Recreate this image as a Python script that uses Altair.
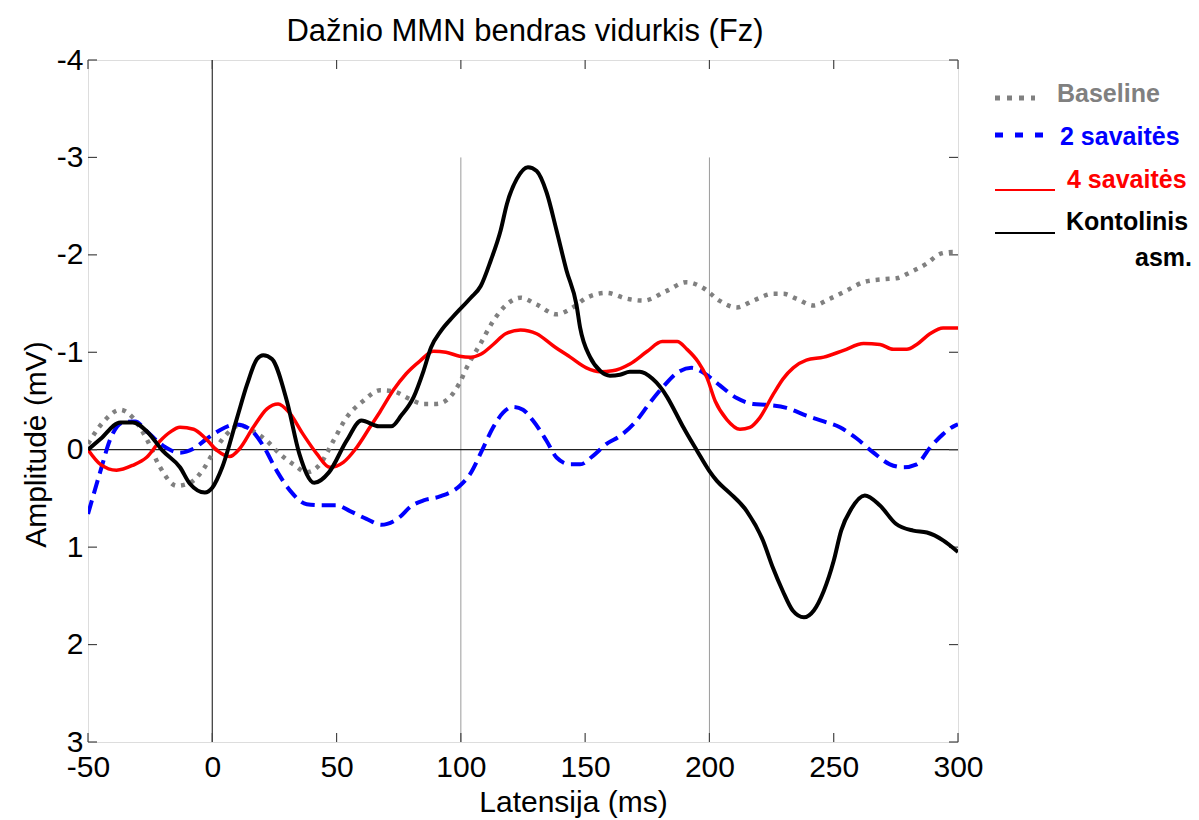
import altair as alt
import pandas as pd

# ---- data ----
black_ms = [-50, -45, -37, -32, -26, -20, -13, -9, -3, 0, 4, 10, 14, 18, 20.5, 24, 30, 35, 41, 47, 54, 60,
            67, 72, 76, 81, 85, 88, 92, 97, 104, 108, 112, 116, 118.5, 122.5, 127, 130.5, 134.5, 138.5,
            142.5, 146.5, 148, 152, 156, 160, 164, 168, 172, 177, 183, 186, 189.5, 195, 200, 203, 208,
            215, 221.5, 225.5, 229.5, 233.5, 238, 242, 246, 250, 253, 257, 262.5, 268.5, 275, 282,
            287.5, 294, 300]
black_mv = [0.0, -0.11, -0.28, -0.28, -0.18, 0.01, 0.18, 0.35, 0.44, 0.39, 0.18, -0.33, -0.67, -0.93, -0.97,
            -0.93, -0.50, 0.04, 0.34, 0.23, -0.09, -0.30, -0.24, -0.24, -0.35, -0.54, -0.81, -1.05, -1.22,
            -1.37, -1.56, -1.68, -1.94, -2.25, -2.52, -2.78, -2.90, -2.86, -2.64, -2.25, -1.84, -1.49,
            -1.25, -0.95, -0.81, -0.76, -0.77, -0.80, -0.80, -0.73, -0.54, -0.40, -0.23, 0.01, 0.22, 0.32,
            0.44, 0.63, 0.93, 1.21, 1.45, 1.65, 1.72, 1.65, 1.45, 1.14, 0.83, 0.61, 0.47, 0.57, 0.76, 0.83,
            0.85, 0.93, 1.05]

red_ms = [-50, -45, -38.5, -32, -26.5, -21, -17, -13, -7.5, -2.5, 2, 7, 11, 16.5, 22, 26.5, 31, 36.5, 42,
          47.3, 52.7, 58, 63.4, 67.5, 72.8, 78, 83.5, 89, 94, 99.5, 104, 108, 113, 118, 124, 130.5, 137,
          144, 150.5, 156, 161, 168, 175, 181, 187, 191, 195.5, 199, 202.3, 207, 212.3, 216.3, 220.3,
          225.7, 229.7, 233.7, 239, 246, 254, 262, 268.6, 274, 279.4, 283.4, 288.7, 294, 300]
red_mv = [0.0, 0.15, 0.21, 0.16, 0.08, -0.09, -0.18, -0.23, -0.21, -0.11, 0.01, 0.07, -0.01, -0.23, -0.42,
          -0.47, -0.38, -0.16, 0.04, 0.18, 0.13, -0.02, -0.23, -0.39, -0.61, -0.78, -0.91, -1.01, -1.0,
          -0.96, -0.95, -0.98, -1.08, -1.19, -1.23, -1.19, -1.07, -0.95, -0.84, -0.80, -0.81, -0.88, -1.01,
          -1.11, -1.11, -1.03, -0.90, -0.74, -0.50, -0.31, -0.21, -0.23, -0.33, -0.57, -0.73, -0.84, -0.92,
          -0.95, -1.02, -1.09, -1.08, -1.03, -1.03, -1.08, -1.19, -1.25, -1.25]

gray_ms = [-50, -44, -37, -32, -26.4, -21, -14.3, -9, -3.6, 0.4, 5.8, 11, 16.5, 22, 27, 32.6, 38, 43.3,
           48.7, 54, 60.7, 67.5, 72.8, 79.5, 85, 90.3, 95.6, 99.6, 102.3, 107.7, 113, 118.4, 124, 130.5,
           138.5, 145, 150.6, 158.6, 166.7, 173.4, 182.8, 190.8, 197.5, 204, 211, 217.6, 225.7, 229.7,
           235, 241.8, 248.5, 255, 262, 270, 275.3, 280.7, 287.4, 292.8, 298, 300]
gray_mv = [-0.06, -0.28, -0.41, -0.33, -0.11, 0.18, 0.37, 0.34, 0.20, 0.03, -0.16, -0.25, -0.19, -0.09,
           0.04, 0.15, 0.23, 0.15, -0.09, -0.33, -0.50, -0.61, -0.60, -0.52, -0.47, -0.47, -0.54, -0.69,
           -0.84, -1.08, -1.32, -1.49, -1.56, -1.49, -1.39, -1.46, -1.56, -1.61, -1.55, -1.53, -1.63, -1.72,
           -1.66, -1.53, -1.46, -1.53, -1.60, -1.60, -1.55, -1.48, -1.55, -1.63, -1.72, -1.75, -1.76, -1.82,
           -1.91, -2.01, -2.03, -2.03]

blue_ms = [-50, -45, -41, -36, -31, -26.4, -19.7, -13, -7.6, -2.3, 3, 9.8, 15.2, 20.5, 26, 31.3, 38, 43.3,
           50, 55.4, 62, 68, 75, 80, 85, 91.6, 99.6, 103.7, 109, 113, 117, 121, 125, 129, 134.5, 138.5,
           144, 148, 153.3, 158.6, 164, 170.7, 176, 181.5, 187, 192.8, 198.2, 204.2, 211, 217.6, 223, 231,
           239, 246, 252.5, 259, 266, 272.6, 278, 283.4, 288.7, 294, 299, 300]
blue_mv = [0.66, 0.22, -0.11, -0.28, -0.29, -0.19, -0.04, 0.03, -0.01, -0.11, -0.20, -0.26, -0.21, -0.04,
           0.22, 0.42, 0.56, 0.57, 0.57, 0.63, 0.71, 0.77, 0.70, 0.58, 0.52, 0.48, 0.37, 0.25, -0.02, -0.23,
           -0.38, -0.44, -0.41, -0.30, -0.09, 0.08, 0.15, 0.15, 0.06, -0.06, -0.14, -0.30, -0.48, -0.65,
           -0.79, -0.84, -0.78, -0.66, -0.53, -0.47, -0.46, -0.43, -0.35, -0.29, -0.23, -0.12, 0.03, 0.15,
           0.18, 0.15, -0.02, -0.16, -0.25, -0.26]

x_ticks = [-50, 0, 50, 100, 150, 200, 250, 300]
y_ticks = [-4, -3, -2, -1, 0, 1, 2, 3]
grid_ms = [100, 200]
legend_labels = ["Baseline", "2 savaitės", "4 savaitės", "Kontolinis", "asm."]
title_text = "Dažnio MMN bendras vidurkis (Fz)"
x_title = "Latensija (ms)"
y_title = "Amplitudė (mV)"

FONT = "Liberation Sans"
W, H = 870, 682

xs = alt.Scale(domain=[-50, 300], nice=False, zero=False)
ys = alt.Scale(domain=[-4, 3], nice=False, zero=False, reverse=True)

LABEL_EXPR = "datum.value < 0 ? '-' + abs(datum.value) : '' + datum.value"

x_axis = alt.Axis(values=x_ticks, tickSize=0, domain=False, grid=False, labelFontSize=30,
                  labelFont=FONT, labelColor="black", labelPadding=10, labelFlush=False,
                  labelExpr=LABEL_EXPR,
                  title=x_title, titleFont=FONT, titleFontSize=30, titleFontWeight="normal",
                  titleColor="black", titleX=485, titleY=60, titleBaseline="middle", titleAlign="center")
y_axis = alt.Axis(values=y_ticks, tickSize=0, domain=False, grid=False, labelFontSize=30,
                  labelFont=FONT, labelColor="black", labelPadding=5, labelFlush=False,
                  labelExpr=LABEL_EXPR,
                  title=y_title, titleFont=FONT, titleFontSize=30, titleFontWeight="normal",
                  titleColor="black", titleX=-52, titleY=384, titleBaseline="middle", titleAlign="center",
                  titleAngle=270)


def series(ms, mv):
    return pd.DataFrame({"ms": ms, "mv": mv})


xt = pd.DataFrame({"t": x_ticks})
yt = pd.DataFrame({"t": y_ticks})

# base (carries axes)
base = alt.Chart(xt).mark_point(opacity=0).encode(
    x=alt.X("t:Q", scale=xs, axis=x_axis),
    y=alt.Y("t:Q", scale=ys, axis=y_axis),
)

grid = alt.Chart(pd.DataFrame({"g": grid_ms})).mark_rule(color="#9a9a9a", strokeWidth=1).encode(
    x=alt.X("g:Q", scale=xs), y=alt.datum(-3), y2=alt.datum(3))
zero_v = alt.Chart(pd.DataFrame({"g": [0]})).mark_rule(color="#333333", strokeWidth=1.2).encode(
    x=alt.X("g:Q", scale=xs), y=alt.datum(-4), y2=alt.datum(3))
zero_h = alt.Chart(pd.DataFrame({"g": [0]})).mark_rule(color="#222222", strokeWidth=1.2).encode(
    y=alt.Y("g:Q", scale=ys), x=alt.datum(-50), x2=alt.datum(300))

tick_style = dict(color="#444444", strokeWidth=1.2)
tb = alt.Chart(xt).mark_rule(**tick_style).encode(x=alt.X("t:Q", scale=xs), y=alt.value(H), y2=alt.value(H - 9))
tt = alt.Chart(xt).mark_rule(**tick_style).encode(x=alt.X("t:Q", scale=xs), y=alt.value(0), y2=alt.value(9))
tl = alt.Chart(yt).mark_rule(**tick_style).encode(y=alt.Y("t:Q", scale=ys), x=alt.value(0), x2=alt.value(9))
tr = alt.Chart(yt).mark_rule(**tick_style).encode(y=alt.Y("t:Q", scale=ys), x=alt.value(W), x2=alt.value(W - 9))


def line(ms, mv, color, width, dash=None):
    kw = dict(color=color, strokeWidth=width, interpolate="monotone", clip=True)
    if dash:
        kw["strokeDash"] = dash
        kw["strokeCap"] = "butt"
    return alt.Chart(series(ms, mv)).mark_line(**kw).encode(
        x=alt.X("ms:Q", scale=xs), y=alt.Y("mv:Q", scale=ys), order="ms:Q")


l_gray = line(gray_ms, gray_mv, "#808080", 4.5, [4, 6])
l_blue = line(blue_ms, blue_mv, "#0000ff", 4, [14, 7])
l_red = line(red_ms, red_mv, "#ff0000", 3.5)
l_black = line(black_ms, black_mv, "#000000", 4)


def ltext(label, color, x, y, align="left", size=25, weight="bold"):
    return alt.Chart(pd.DataFrame({"a": [0]})).mark_text(
        font=FONT, fontSize=size, fontWeight=weight, color=color, align=align, baseline="middle"
    ).encode(x=alt.value(x), y=alt.value(y), text=alt.value(label))


def lsample(color, x1, x2, y, width, dash=None):
    kw = dict(color=color, strokeWidth=width)
    if dash:
        kw["strokeDash"] = dash
        kw["strokeCap"] = "butt"
    return alt.Chart(pd.DataFrame({"a": [0]})).mark_rule(**kw).encode(
        x=alt.value(x1), x2=alt.value(x2), y=alt.value(y))


title_mark = ltext(title_text, "black", W / 2 + 2, -28, align="center", size=31, weight="normal")

legend = [
    lsample("#808080", 907, 947, 38, 5, [5, 7]),
    ltext(legend_labels[0], "#808080", 969, 34),
    lsample("#0000ff", 907, 964, 75, 5, [8, 12]),
    ltext(legend_labels[1], "#0000ff", 972, 77),
    lsample("#ff0000", 907, 967, 130, 2),
    ltext(legend_labels[2], "#ff0000", 979, 120),
    lsample("#000000", 907, 967, 173, 2),
    ltext(legend_labels[3], "#000000", 978, 162),
    ltext(legend_labels[4], "#000000", 1104, 198, align="right"),
]

chart = alt.layer(
    base, grid, zero_v, zero_h, tb, tt, tl, tr, l_gray, l_blue, l_red, l_black, title_mark, *legend
).properties(
    width=W, height=H,
    autosize=alt.AutoSizeParams(type="none"),
    padding={"left": 88, "top": 60, "right": 241, "bottom": 78},
).configure_view(stroke="black", strokeWidth=1.5).configure(background="white")

chart.save("out.html", embed_options={"renderer": "svg", "actions": False})
